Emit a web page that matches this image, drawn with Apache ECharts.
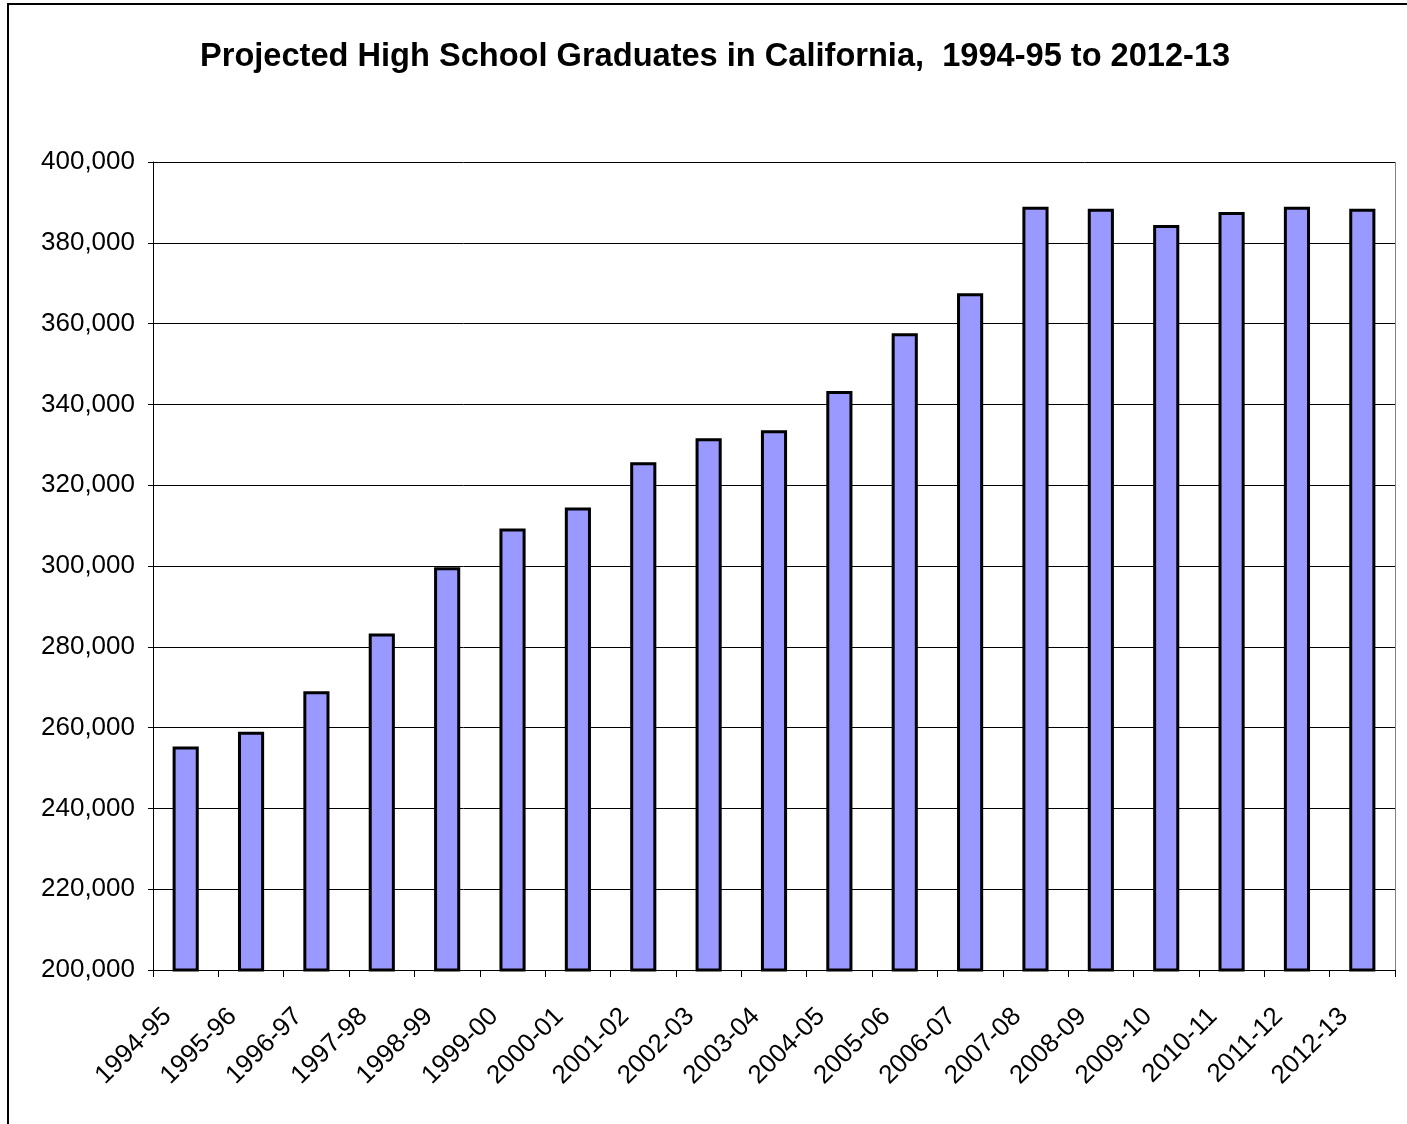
<!DOCTYPE html>
<html>
<head>
<meta charset="utf-8">
<script src="https://cdn.jsdelivr.net/npm/echarts@6/dist/echarts.min.js"></script>
<style>
  html, body { margin: 0; padding: 0; background: #fff; }
  #chart { width: 1407px; height: 1124px; }
</style>
</head>
<body>
<div id="chart"></div>
<script>
const years = ['1994-95', '1995-96', '1996-97', '1997-98', '1998-99', '1999-00', '2000-01',
  '2001-02', '2002-03', '2003-04', '2004-05', '2005-06', '2006-07', '2007-08', '2008-09',
  '2009-10', '2010-11', '2011-12', '2012-13'];
const graduates = [255300, 259000, 269000, 283300, 299700, 309300, 314500, 325700, 331600,
  333600, 343300, 357600, 367500, 388900, 388400, 384400, 387600, 388900, 388400];

const chart = echarts.init(document.getElementById('chart'));

function fmt(v) {
  return String(v).replace(/\B(?=(\d{3})+(?!\d))/g, ',');
}

const option = {
  animation: false,
  backgroundColor: '#fff',
  title: {
    text: 'Projected High School Graduates in California,  1994-95 to 2012-13',
    left: 195,
    top: 36,
    textStyle: {
      fontFamily: 'Liberation Sans, Arial, sans-serif',
      fontWeight: 'bold',
      fontSize: 32.6,
      color: '#000'
    }
  },
  graphic: [{
    type: 'rect',
    shape: { x: 8, y: 4, width: 1500, height: 1300 },
    style: { fill: 'none', stroke: '#000', lineWidth: 2 },
    z: 100
  }, {
    // right edge of plot area
    type: 'line',
    shape: { x1: 1395.5, y1: 162, x2: 1395.5, y2: 970 },
    style: { stroke: '#808080', lineWidth: 1 }
  }],
  grid: {
    left: 153,
    right: 12,
    top: 162,
    bottom: 154
  },
  xAxis: {
    type: 'category',
    data: years,
    axisLine: { lineStyle: { color: '#000', width: 1 } },
    axisTick: { show: true, length: 7, lineStyle: { color: '#000' } },
    axisLabel: {
      rotate: 45,
      interval: 0,
      margin: 24,
      padding: [0, 26, 0, 0],
      fontFamily: 'Liberation Sans, Arial, sans-serif',
      fontSize: 26,
      color: '#000'
    }
  },
  yAxis: {
    type: 'value',
    min: 200000,
    max: 400000,
    interval: 20000,
    axisLine: { show: true, lineStyle: { color: '#000', width: 1 } },
    axisTick: { show: true, length: 5, lineStyle: { color: '#000' } },
    splitLine: { show: true, lineStyle: { color: '#000', width: 1 } },
    axisLabel: {
      formatter: fmt,
      margin: 18,
      fontFamily: 'Liberation Sans, Arial, sans-serif',
      fontSize: 26,
      color: '#000'
    }
  },
  series: [{
    type: 'bar',
    data: graduates,
    barWidth: '40%',
    itemStyle: {
      color: '#9999FF',
      borderColor: '#000',
      borderWidth: 3
    }
  }]
};

chart.setOption(option);
</script>
</body>
</html>
